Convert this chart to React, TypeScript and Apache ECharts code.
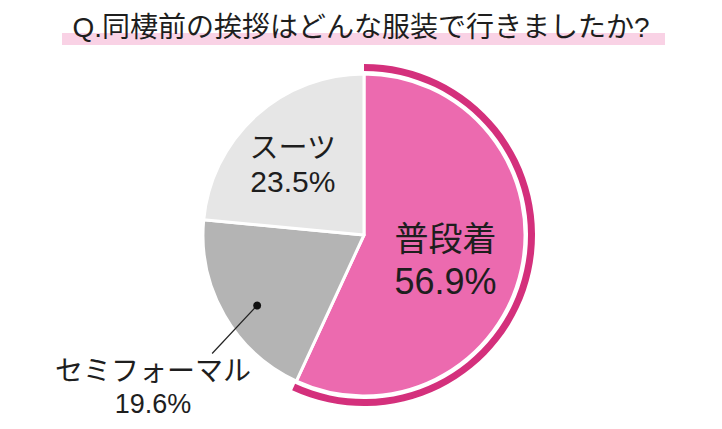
import React, { useEffect, useRef } from "react";
import * as echarts from "echarts";

const titleText = "Q.同棲前の挨拶はどんな服装で行きましたか?";
const categories = ["普段着", "セミフォーマル", "スーツ"];
const values = [56.9, 19.6, 23.5];
const sliceColors = ["#EC6AAF", "#B4B4B4", "#E6E6E6"];
const ringColor = "#D4307C";
const FONT = "'Noto Sans CJK JP', 'Noto Sans', sans-serif";
const NUMFONT = "'Liberation Sans', Arial, sans-serif";

const CX = 364;
const CY = 235;
const R = 161;

export default function App() {
  const ref = useRef<HTMLDivElement>(null);
  useEffect(() => {
    if (!ref.current) return;
    const chart = echarts.init(ref.current, null, { renderer: "svg" });
    const total = values.reduce((a, b) => a + b, 0);
    // leader dot for セミフォーマル, placed inside its slice (derived from the data angles)
    const dotFrac = (values[0] + values[1] * 0.45) / total;
    const ang = dotFrac * Math.PI * 2;
    const dotR = 128;
    const dx = CX + dotR * Math.sin(ang);
    const dy = CY - dotR * Math.cos(ang);

    const labelSizes = [
      { a: 34, b: 36, lh: 45 },
      { a: 28, b: 27, lh: 35 },
      { a: 29, b: 30, lh: 37 },
    ];

    chart.setOption({
      animation: false,
      graphic: [
        {
          type: "rect",
          z: 1,
          shape: { x: 62, y: 33, width: 603, height: 12 },
          style: { fill: "#F9D2E5" },
        },
        {
          type: "text",
          z: 2,
          x: 361,
          y: 27,
          style: {
            text: titleText,
            fontFamily: "'Liberation Sans', 'Noto Sans CJK JP', sans-serif",
            fontSize: 28,
            fill: "#1e1e1e",
            textAlign: "center",
            textVerticalAlign: "middle",
          },
        },
        {
          type: "line",
          z: 20,
          shape: { x1: dx, y1: dy, x2: dx - 45, y2: dy + 48 },
          style: { stroke: "#222", lineWidth: 1.2 },
        },
        {
          type: "circle",
          z: 20,
          shape: { cx: dx, cy: dy, r: 4 },
          style: { fill: "#111" },
        },
      ],
      series: [
        {
          type: "pie",
          center: [CX, CY],
          radius: [0, R],
          startAngle: 90,
          clockwise: true,
          silent: true,
          itemStyle: { borderColor: "#fff", borderWidth: 3 },
          data: categories.map((c, i) => ({
            name: c,
            value: values[i],
            itemStyle: { color: sliceColors[i] },
            label: {
              rich: {
                a: { fontSize: labelSizes[i].a, fontFamily: FONT, color: "#1e1e1e", lineHeight: labelSizes[i].lh, align: "center" },
                b: { fontSize: labelSizes[i].b, fontFamily: NUMFONT, color: "#1e1e1e", lineHeight: labelSizes[i].lh, align: "center" },
              },
            },
          })),
          label: {
            show: true,
            position: "inside",
            formatter: (p: any) => `{a|${p.name}}\n{b|${p.value}%}`,
          },
          labelLine: { show: false },
          labelLayout: (p: any) => {
            if (p.dataIndex === 0) return { dy: 6 };
            if (p.dataIndex === 2) return { dx: -15, dy: -10 };
            return { x: 153, y: 386, align: "center", verticalAlign: "middle" };
          },
        },
        {
          type: "pie",
          center: [CX, CY],
          radius: [164, 171],
          startAngle: 90,
          clockwise: true,
          silent: true,
          label: { show: false },
          labelLine: { show: false },
          data: [
            { value: values[0], itemStyle: { color: ringColor } },
            { value: total - values[0], itemStyle: { color: "rgba(0,0,0,0)" } },
          ],
        },
      ],
    });
    return () => chart.dispose();
  }, []);
  return (
    <div
      ref={ref}
      style={{ position: "fixed", left: 0, top: 0, width: 722, height: 429, background: "#fff" }}
    />
  );
}
